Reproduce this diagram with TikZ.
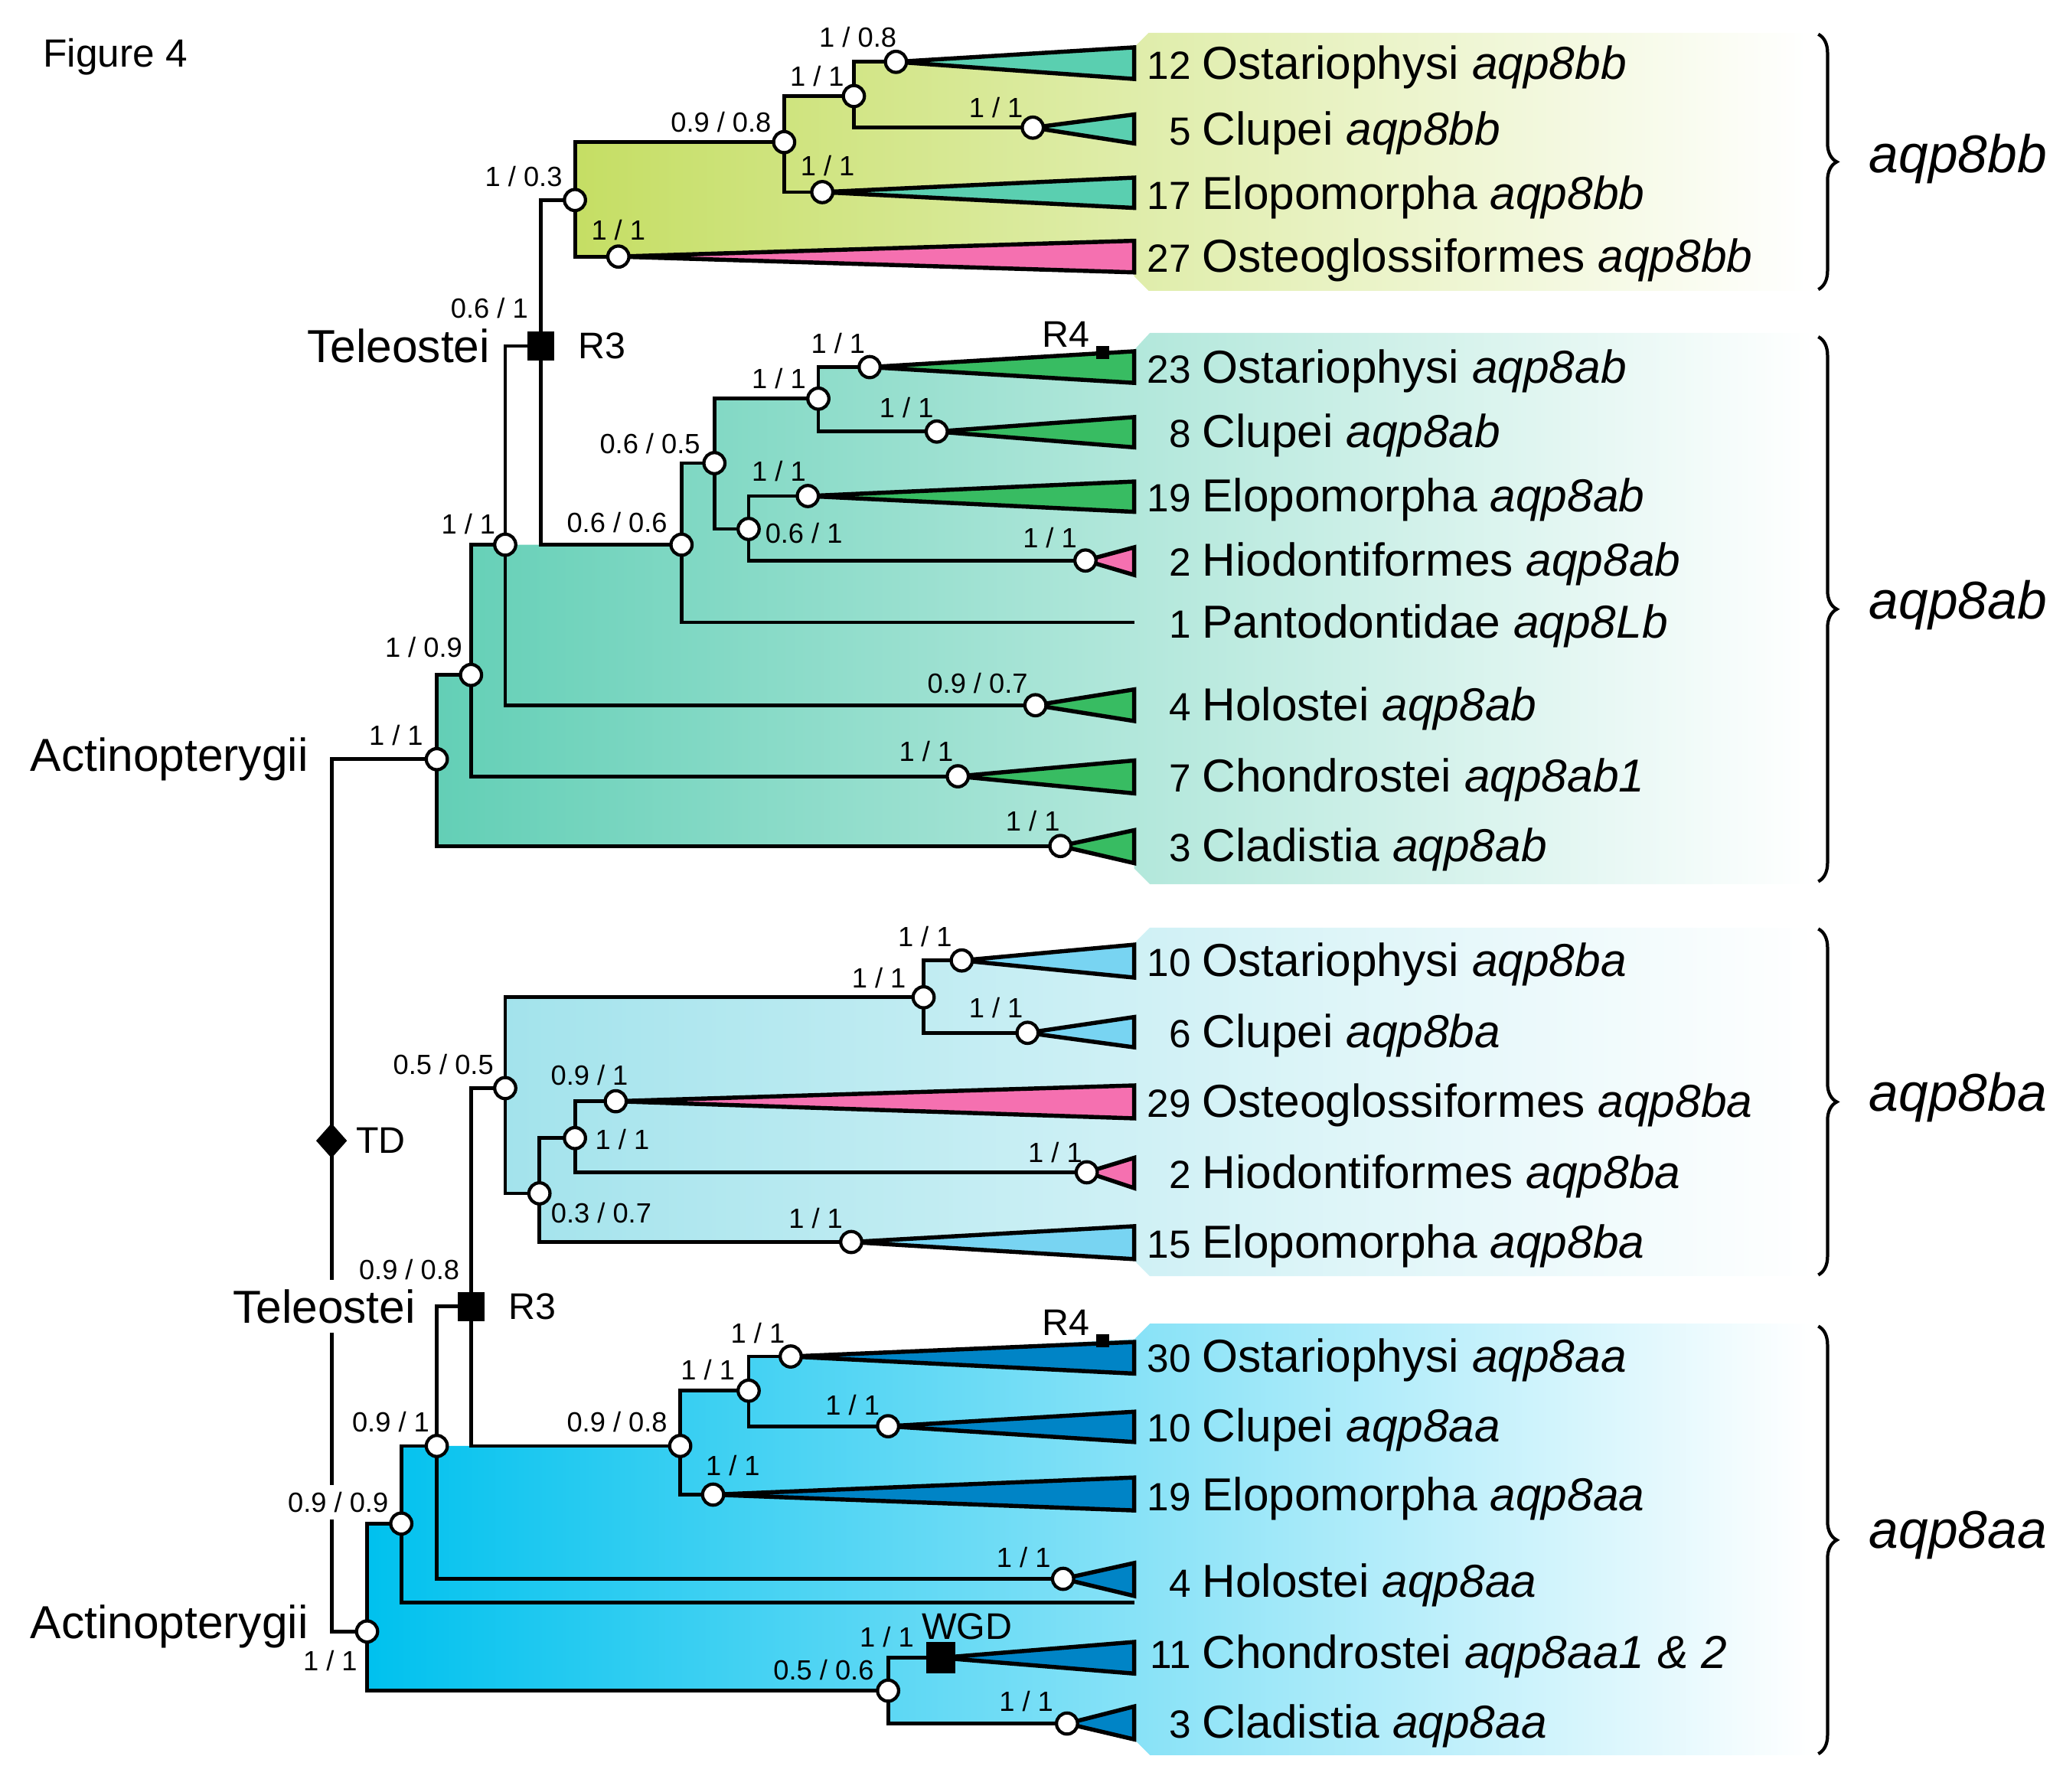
\documentclass[tikz,border=0pt]{standalone}
\usepackage{fontspec}
\setmainfont{Liberation Sans}
\usetikzlibrary{shapes.geometric,backgrounds,decorations.pathreplacing}
\newcommand{\leafno}[1]{\llap{{\fontsize{8.5}{10}\selectfont #1}\kern2.4pt}}

\begin{document}
\begin{tikzpicture}[x=0.01cm, y=-0.01cm, every node/.style={inner sep=0pt},
		branch/.style={line width=0.8pt},
		nd/.style={circle, draw=black, fill=white, line width=0.7pt, minimum size=0.16cm},
		supp/.style={font=\fontsize{6}{7}\selectfont},
		leaf/.style={anchor=base west, font=\fontsize{10}{12}\selectfont},
		taxon/.style={anchor=east, font=\fontsize{10}{12}\selectfont},
		evlab/.style={font=\fontsize{8}{9}\selectfont},
		tri/.style={draw=black, line width=0.9pt, line join=miter},
		dupsq/.style={rectangle, fill=black, minimum width=0.2cm, minimum height=0.22cm},
		rfour/.style={rectangle, fill=black, minimum size=0.1cm},
		paralog/.style={anchor=west, font=\fontsize{11.5}{14}\selectfont\itshape},
		brc/.style={decorate, decoration={brace, amplitude=4pt}, line width=0.7pt}]
		% Define colors
		\definecolor{bbfill}{RGB}{197, 222, 100}
		\definecolor{abfill}{RGB}{99, 207, 182}
		\definecolor{bafill}{RGB}{163, 227, 236}
		\definecolor{aafill}{RGB}{0, 193, 238}
		\definecolor{tealtri}{RGB}{90, 207, 176}
		\definecolor{greentri}{RGB}{56, 188, 98}
		\definecolor{ltbluetri}{RGB}{120, 212, 242}
		\definecolor{dkbluetri}{RGB}{0, 132, 198}
		\definecolor{pinktri}{RGB}{245, 112, 176}
		
		\useasboundingbox (0,0) rectangle (1568,1362);
		
		% Title
		\node[anchor=west, font=\fontsize{8.5}{10}\selectfont] (fig) at (32,43) {Figure 4};
		
		% ===== ROOT (TD) =====
		\node[diamond, fill=black, minimum width=0.24cm, minimum height=0.27cm] (td) at (252,867) {};
		\node[evlab, anchor=west] (tdL) at (270,867) {TD};
		
		% ===== UPPER ACTINOPTERYGII (aqp8ab / aqp8bb) =====
		\node[nd] (actU) at (332,577) {};
		\node[taxon] (actUL) at (235,577) {Actinopterygii};
		\node[nd] (abE) at (358,513) {};
		\node[nd] (abNeo) at (384,414) {};
		\node[dupsq] (teleU) at (411,263) {};
		\node[taxon] (teleUL) at (373,263) {Teleostei};
		\node[evlab, anchor=west] (teleUR) at (439,263) {R3};
		
		% aqp8bb clade
		\node[nd] (bbA) at (437,152) {};
		\node[nd] (bbB) at (596,108) {};
		\node[nd] (bbC) at (649,73) {};
		\node[nd] (bbOst) at (681,47) {};
		\node[nd] (bbClu) at (785,97) {};
		\node[nd] (bbElo) at (625,146) {};
		\node[nd] (bbOsg) at (470,195) {};
		
		% aqp8ab clade
		\node[nd] (abA) at (518,414) {};
		\node[nd] (abB) at (543,352) {};
		\node[nd] (abC) at (622,303) {};
		\node[nd] (abOst) at (661,279) {};
		\node[nd] (abClu) at (712,328) {};
		\node[nd] (abD) at (569,402) {};
		\node[nd] (abElo) at (614,377) {};
		\node[nd] (abHio) at (825,426) {};
		\coordinate (abPan) at (862,473);
		\node[nd] (abHol) at (787,536) {};
		\node[nd] (abCho) at (728,590) {};
		\node[nd] (abCla) at (806,643) {};
		\node[rfour] (abR4) at (838,268) {};
		\node[evlab] (abR4L) at (810,254) {R4};
		
		% ===== LOWER ACTINOPTERYGII (aqp8aa / aqp8ba) =====
		\node[nd] (actL) at (279,1240) {};
		\node[taxon] (actLL) at (235,1236) {Actinopterygii};
		\node[nd] (aaE) at (305,1158) {};
		\node[nd] (aaNeo) at (332,1099) {};
		\coordinate (aaLine) at (862,1218);
		\node[dupsq] (teleL) at (358,993) {};
		\node[taxon, fill=white, inner xsep=1pt, inner ysep=2pt] (teleLL) at (320,993) {Teleostei};
		\node[evlab, anchor=west] (teleLR) at (386,993) {R3};
		
		% aqp8ba clade
		\node[nd] (baA) at (384,827) {};
		\node[nd] (baB) at (702,758) {};
		\node[nd] (baOst) at (731,730) {};
		\node[nd] (baClu) at (781,785) {};
		\node[nd] (baC) at (410,907) {};
		\node[nd] (baD) at (437,865) {};
		\node[nd] (baOsg) at (468,837) {};
		\node[nd] (baHio) at (826,891) {};
		\node[nd] (baElo) at (647,944) {};
		
		% aqp8aa clade
		\node[nd] (aaA) at (517,1099) {};
		\node[nd] (aaB) at (569,1057) {};
		\node[nd] (aaOst) at (601,1031) {};
		\node[nd] (aaClu) at (675,1084) {};
		\node[nd] (aaElo) at (542,1136) {};
		\node[nd] (aaHol) at (808,1200) {};
		\node[nd] (aaF) at (675,1285) {};
		\node[rectangle, fill=black, minimum width=0.22cm, minimum height=0.24cm] (aaWgd) at (715,1260) {};
		\node[evlab] (aaWgdL) at (735,1236) {WGD};
		\node[nd] (aaCla) at (811,1310) {};
		\node[rfour] (aaR4) at (838,1019) {};
		\node[evlab] (aaR4L) at (810,1005) {R4};
		
		% ===== SUPPORT VALUES =====
		\node[supp] (bbOstS) at (652,28) {1 / 0.8};
		\node[supp] (bbCS) at (621,58) {1 / 1};
		\node[supp] (bbBS) at (548,93) {0.9 / 0.8};
		\node[supp] (bbCluS) at (757,82) {1 / 1};
		\node[supp] (bbEloS) at (629,126) {1 / 1};
		\node[supp] (bbAS) at (398,134) {1 / 0.3};
		\node[supp] (bbOsgS) at (470,175) {1 / 1};
		\node[supp] (teleUS) at (372,234) {0.6 / 1};
		\node[supp] (abOstS) at (637,261) {1 / 1};
		\node[supp] (abCS) at (592,288) {1 / 1};
		\node[supp] (abCluS) at (689,310) {1 / 1};
		\node[supp] (abBS) at (494,337) {0.6 / 0.5};
		\node[supp] (abEloS) at (592,358) {1 / 1};
		\node[supp] (abDS) at (611,405) {0.6 / 1};
		\node[supp] (abHioS) at (798,409) {1 / 1};
		\node[supp] (abAS) at (469,397) {0.6 / 0.6};
		\node[supp] (abNeoS) at (356,398) {1 / 1};
		\node[supp] (abES) at (322,492) {1 / 0.9};
		\node[supp] (abHolS) at (743,519) {0.9 / 0.7};
		\node[supp] (actUS) at (301,559) {1 / 1};
		\node[supp] (abChoS) at (704,571) {1 / 1};
		\node[supp] (abClaS) at (785,624) {1 / 1};
		\node[supp] (baOstS) at (703,712) {1 / 1};
		\node[supp] (baBS) at (668,743) {1 / 1};
		\node[supp] (baCluS) at (757,766) {1 / 1};
		\node[supp] (baAS) at (337,809) {0.5 / 0.5};
		\node[supp] (baOsgS) at (448,817) {0.9 / 1};
		\node[supp] (baDS) at (473,866) {1 / 1};
		\node[supp] (baHioS) at (802,876) {1 / 1};
		\node[supp] (baCS) at (457,922) {0.3 / 0.7};
		\node[supp] (baEloS) at (620,926) {1 / 1};
		\node[supp] (teleLS) at (311,965) {0.9 / 0.8};
		\node[supp] (aaOstS) at (576,1013) {1 / 1};
		\node[supp] (aaBS) at (538,1041) {1 / 1};
		\node[supp] (aaCluS) at (648,1068) {1 / 1};
		\node[supp] (aaNeoS) at (297,1081) {0.9 / 1};
		\node[supp] (aaAS) at (469,1081) {0.9 / 0.8};
		\node[supp] (aaEloS) at (557,1114) {1 / 1};
		\node[supp, fill=white, inner xsep=0.5pt, inner ysep=1.5pt] (aaES) at (257,1142) {0.9 / 0.9};
		\node[supp] (aaHolS) at (778,1184) {1 / 1};
		\node[supp] (aaWgdS) at (674,1244) {1 / 1};
		\node[supp] (aaFS) at (626,1269) {0.5 / 0.6};
		\node[supp] (actLS) at (251,1262) {1 / 1};
		\node[supp] (aaClaS) at (780,1293) {1 / 1};
		
		% ===== LEAF LABELS =====
		\node[leaf] (bbOstT) at (913,60) {\leafno{12}Ostariophysi \textit{aqp8bb}};
		\node[leaf] (bbCluT) at (913,110) {\leafno{5}Clupei \textit{aqp8bb}};
		\node[leaf] (bbEloT) at (913,159) {\leafno{17}Elopomorpha \textit{aqp8bb}};
		\node[leaf] (bbOsgT) at (913,207) {\leafno{27}Osteoglossiformes \textit{aqp8bb}};
		\node[leaf] (abOstT) at (913,291) {\leafno{23}Ostariophysi \textit{aqp8ab}};
		\node[leaf] (abCluT) at (913,340) {\leafno{8}Clupei \textit{aqp8ab}};
		\node[leaf] (abEloT) at (913,389) {\leafno{19}Elopomorpha \textit{aqp8ab}};
		\node[leaf] (abHioT) at (913,438) {\leafno{2}Hiodontiformes \textit{aqp8ab}};
		\node[leaf] (abPanT) at (913,485) {\leafno{1}Pantodontidae \textit{aqp8Lb}};
		\node[leaf] (abHolT) at (913,548) {\leafno{4}Holostei \textit{aqp8ab}};
		\node[leaf] (abChoT) at (913,602) {\leafno{7}Chondrostei \textit{aqp8ab1}};
		\node[leaf] (abClaT) at (913,655) {\leafno{3}Cladistia \textit{aqp8ab}};
		\node[leaf] (baOstT) at (913,742) {\leafno{10}Ostariophysi \textit{aqp8ba}};
		\node[leaf] (baCluT) at (913,796) {\leafno{6}Clupei \textit{aqp8ba}};
		\node[leaf] (baOsgT) at (913,849) {\leafno{29}Osteoglossiformes \textit{aqp8ba}};
		\node[leaf] (baHioT) at (913,903) {\leafno{2}Hiodontiformes \textit{aqp8ba}};
		\node[leaf] (baEloT) at (913,956) {\leafno{15}Elopomorpha \textit{aqp8ba}};
		\node[leaf] (aaOstT) at (913,1043) {\leafno{30}Ostariophysi \textit{aqp8aa}};
		\node[leaf] (aaCluT) at (913,1096) {\leafno{10}Clupei \textit{aqp8aa}};
		\node[leaf] (aaEloT) at (913,1148) {\leafno{19}Elopomorpha \textit{aqp8aa}};
		\node[leaf] (aaHolT) at (913,1214) {\leafno{4}Holostei \textit{aqp8aa}};
		\node[leaf] (aaChoT) at (913,1268) {\leafno{11}Chondrostei \textit{aqp8aa1 \& 2}};
		\node[leaf] (aaClaT) at (913,1321) {\leafno{3}Cladistia \textit{aqp8aa}};
		
		% ===== PARALOG BRACES =====
		\draw[brc] (1382,26) -- (1382,220);
		\node[paralog] (bbP) at (1420,121) {aqp8bb};
		\draw[brc] (1382,256) -- (1382,670);
		\node[paralog] (abP) at (1420,460) {aqp8ab};
		\draw[brc] (1382,706) -- (1382,969);
		\node[paralog] (baP) at (1420,834) {aqp8ba};
		\draw[brc] (1382,1008) -- (1382,1333);
		\node[paralog] (aaP) at (1420,1167) {aqp8aa};
		
		\begin{pgfonlayer}{background}
			% ===== CLADE SHADING =====
			\shade[left color=bbfill, right color=white] (437,196) -- (437,108) -- (596,108) -- (596,73) -- (649,73) -- (649,47) -- (681,47) -- (862,36) -- (873,25) -- (1378,25) -- (1378,221) -- (873,221) -- (862,210) -- (862,207) -- (470,196) -- cycle;
			\shade[left color=abfill, right color=white] (332,643) -- (332,513) -- (358,513) -- (358,414) -- (518,414) -- (518,352) -- (543,352) -- (543,303) -- (622,303) -- (622,279) -- (661,279) -- (862,266) -- (874,253) -- (1378,253) -- (1378,672) -- (874,672) -- (862,660) -- (862,656) -- (806,643) -- cycle;
			\shade[left color=bafill, right color=white] (384,907) -- (384,758) -- (702,758) -- (702,730) -- (731,730) -- (862,717) -- (874,705) -- (1378,705) -- (1378,970) -- (874,970) -- (862,958) -- (862,957) -- (647,944) -- (410,944) -- (410,907) -- cycle;
			\shade[left color=aafill, right color=white] (279,1285) -- (279,1158) -- (305,1158) -- (305,1099) -- (517,1099) -- (517,1057) -- (569,1057) -- (569,1031) -- (601,1031) -- (862,1018) -- (874,1006) -- (1378,1006) -- (1378,1334) -- (874,1334) -- (862,1322) -- (811,1310) -- (675,1310) -- (675,1285) -- cycle;
			
			% ===== BRANCHES =====
			\draw[branch] (td.center) |- (actU.center);
			\draw[branch] (td.center) |- (actL.center);
			\draw[branch] (actU.center) |- (abE.center);
			\draw[branch] (actU.center) |- (abCla.center);
			\draw[branch] (abE.center) |- (abNeo.center);
			\draw[branch] (abE.center) |- (abCho.center);
			\draw[branch] (abNeo.center) |- (teleU.center);
			\draw[branch] (abNeo.center) |- (abHol.center);
			\draw[branch] (teleU.center) |- (bbA.center);
			\draw[branch] (teleU.center) |- (abA.center);
			\draw[branch] (bbA.center) |- (bbB.center);
			\draw[branch] (bbA.center) |- (bbOsg.center);
			\draw[branch] (bbB.center) |- (bbC.center);
			\draw[branch] (bbB.center) |- (bbElo.center);
			\draw[branch] (bbC.center) |- (bbOst.center);
			\draw[branch] (bbC.center) |- (bbClu.center);
			\draw[branch] (abA.center) |- (abB.center);
			\draw[branch] (abA.center) |- (abPan);
			\draw[branch] (abB.center) |- (abC.center);
			\draw[branch] (abB.center) |- (abD.center);
			\draw[branch] (abC.center) |- (abOst.center);
			\draw[branch] (abC.center) |- (abClu.center);
			\draw[branch] (abD.center) |- (abElo.center);
			\draw[branch] (abD.center) |- (abHio.center);
			\draw[branch] (actL.center) |- (aaE.center);
			\draw[branch] (actL.center) |- (aaF.center);
			\draw[branch] (aaE.center) |- (aaNeo.center);
			\draw[branch] (aaE.center) |- (aaLine);
			\draw[branch] (aaNeo.center) |- (teleL.center);
			\draw[branch] (aaNeo.center) |- (aaHol.center);
			\draw[branch] (teleL.center) |- (baA.center);
			\draw[branch] (teleL.center) |- (aaA.center);
			\draw[branch] (baA.center) |- (baB.center);
			\draw[branch] (baA.center) |- (baC.center);
			\draw[branch] (baB.center) |- (baOst.center);
			\draw[branch] (baB.center) |- (baClu.center);
			\draw[branch] (baC.center) |- (baD.center);
			\draw[branch] (baC.center) |- (baElo.center);
			\draw[branch] (baD.center) |- (baOsg.center);
			\draw[branch] (baD.center) |- (baHio.center);
			\draw[branch] (aaA.center) |- (aaB.center);
			\draw[branch] (aaA.center) |- (aaElo.center);
			\draw[branch] (aaB.center) |- (aaOst.center);
			\draw[branch] (aaB.center) |- (aaClu.center);
			\draw[branch] (aaF.center) |- (aaWgd.center);
			\draw[branch] (aaF.center) |- (aaCla.center);
			
			% ===== COLLAPSED CLADES =====
			\filldraw[tri, fill=tealtri] (bbOst.center) -- (862,36) -- (862,60) -- cycle;
			\filldraw[tri, fill=tealtri] (bbClu.center) -- (862,87) -- (862,109) -- cycle;
			\filldraw[tri, fill=tealtri] (bbElo.center) -- (862,135) -- (862,158) -- cycle;
			\filldraw[tri, fill=pinktri] (bbOsg.center) -- (862,183) -- (862,207) -- cycle;
			\filldraw[tri, fill=greentri] (abOst.center) -- (862,267) -- (862,291) -- cycle;
			\filldraw[tri, fill=greentri] (abClu.center) -- (862,317) -- (862,340) -- cycle;
			\filldraw[tri, fill=greentri] (abElo.center) -- (862,366) -- (862,389) -- cycle;
			\filldraw[tri, fill=pinktri] (abHio.center) -- (862,416) -- (862,437) -- cycle;
			\filldraw[tri, fill=greentri] (abHol.center) -- (862,524) -- (862,548) -- cycle;
			\filldraw[tri, fill=greentri] (abCho.center) -- (862,578) -- (862,603) -- cycle;
			\filldraw[tri, fill=greentri] (abCla.center) -- (862,631) -- (862,656) -- cycle;
			\filldraw[tri, fill=ltbluetri] (baOst.center) -- (862,718) -- (862,743) -- cycle;
			\filldraw[tri, fill=ltbluetri] (baClu.center) -- (862,773) -- (862,796) -- cycle;
			\filldraw[tri, fill=pinktri] (baOsg.center) -- (862,825) -- (862,850) -- cycle;
			\filldraw[tri, fill=pinktri] (baHio.center) -- (862,880) -- (862,903) -- cycle;
			\filldraw[tri, fill=ltbluetri] (baElo.center) -- (862,932) -- (862,957) -- cycle;
			\filldraw[tri, fill=dkbluetri] (aaOst.center) -- (862,1020) -- (862,1044) -- cycle;
			\filldraw[tri, fill=dkbluetri] (aaClu.center) -- (862,1073) -- (862,1096) -- cycle;
			\filldraw[tri, fill=dkbluetri] (aaElo.center) -- (862,1123) -- (862,1148) -- cycle;
			\filldraw[tri, fill=dkbluetri] (aaHol.center) -- (862,1188) -- (862,1213) -- cycle;
			\filldraw[tri, fill=dkbluetri] (aaWgd.center) -- (862,1248) -- (862,1272) -- cycle;
			\filldraw[tri, fill=dkbluetri] (aaCla.center) -- (862,1297) -- (862,1322) -- cycle;
		\end{pgfonlayer}
		
	\end{tikzpicture}
\end{document}
